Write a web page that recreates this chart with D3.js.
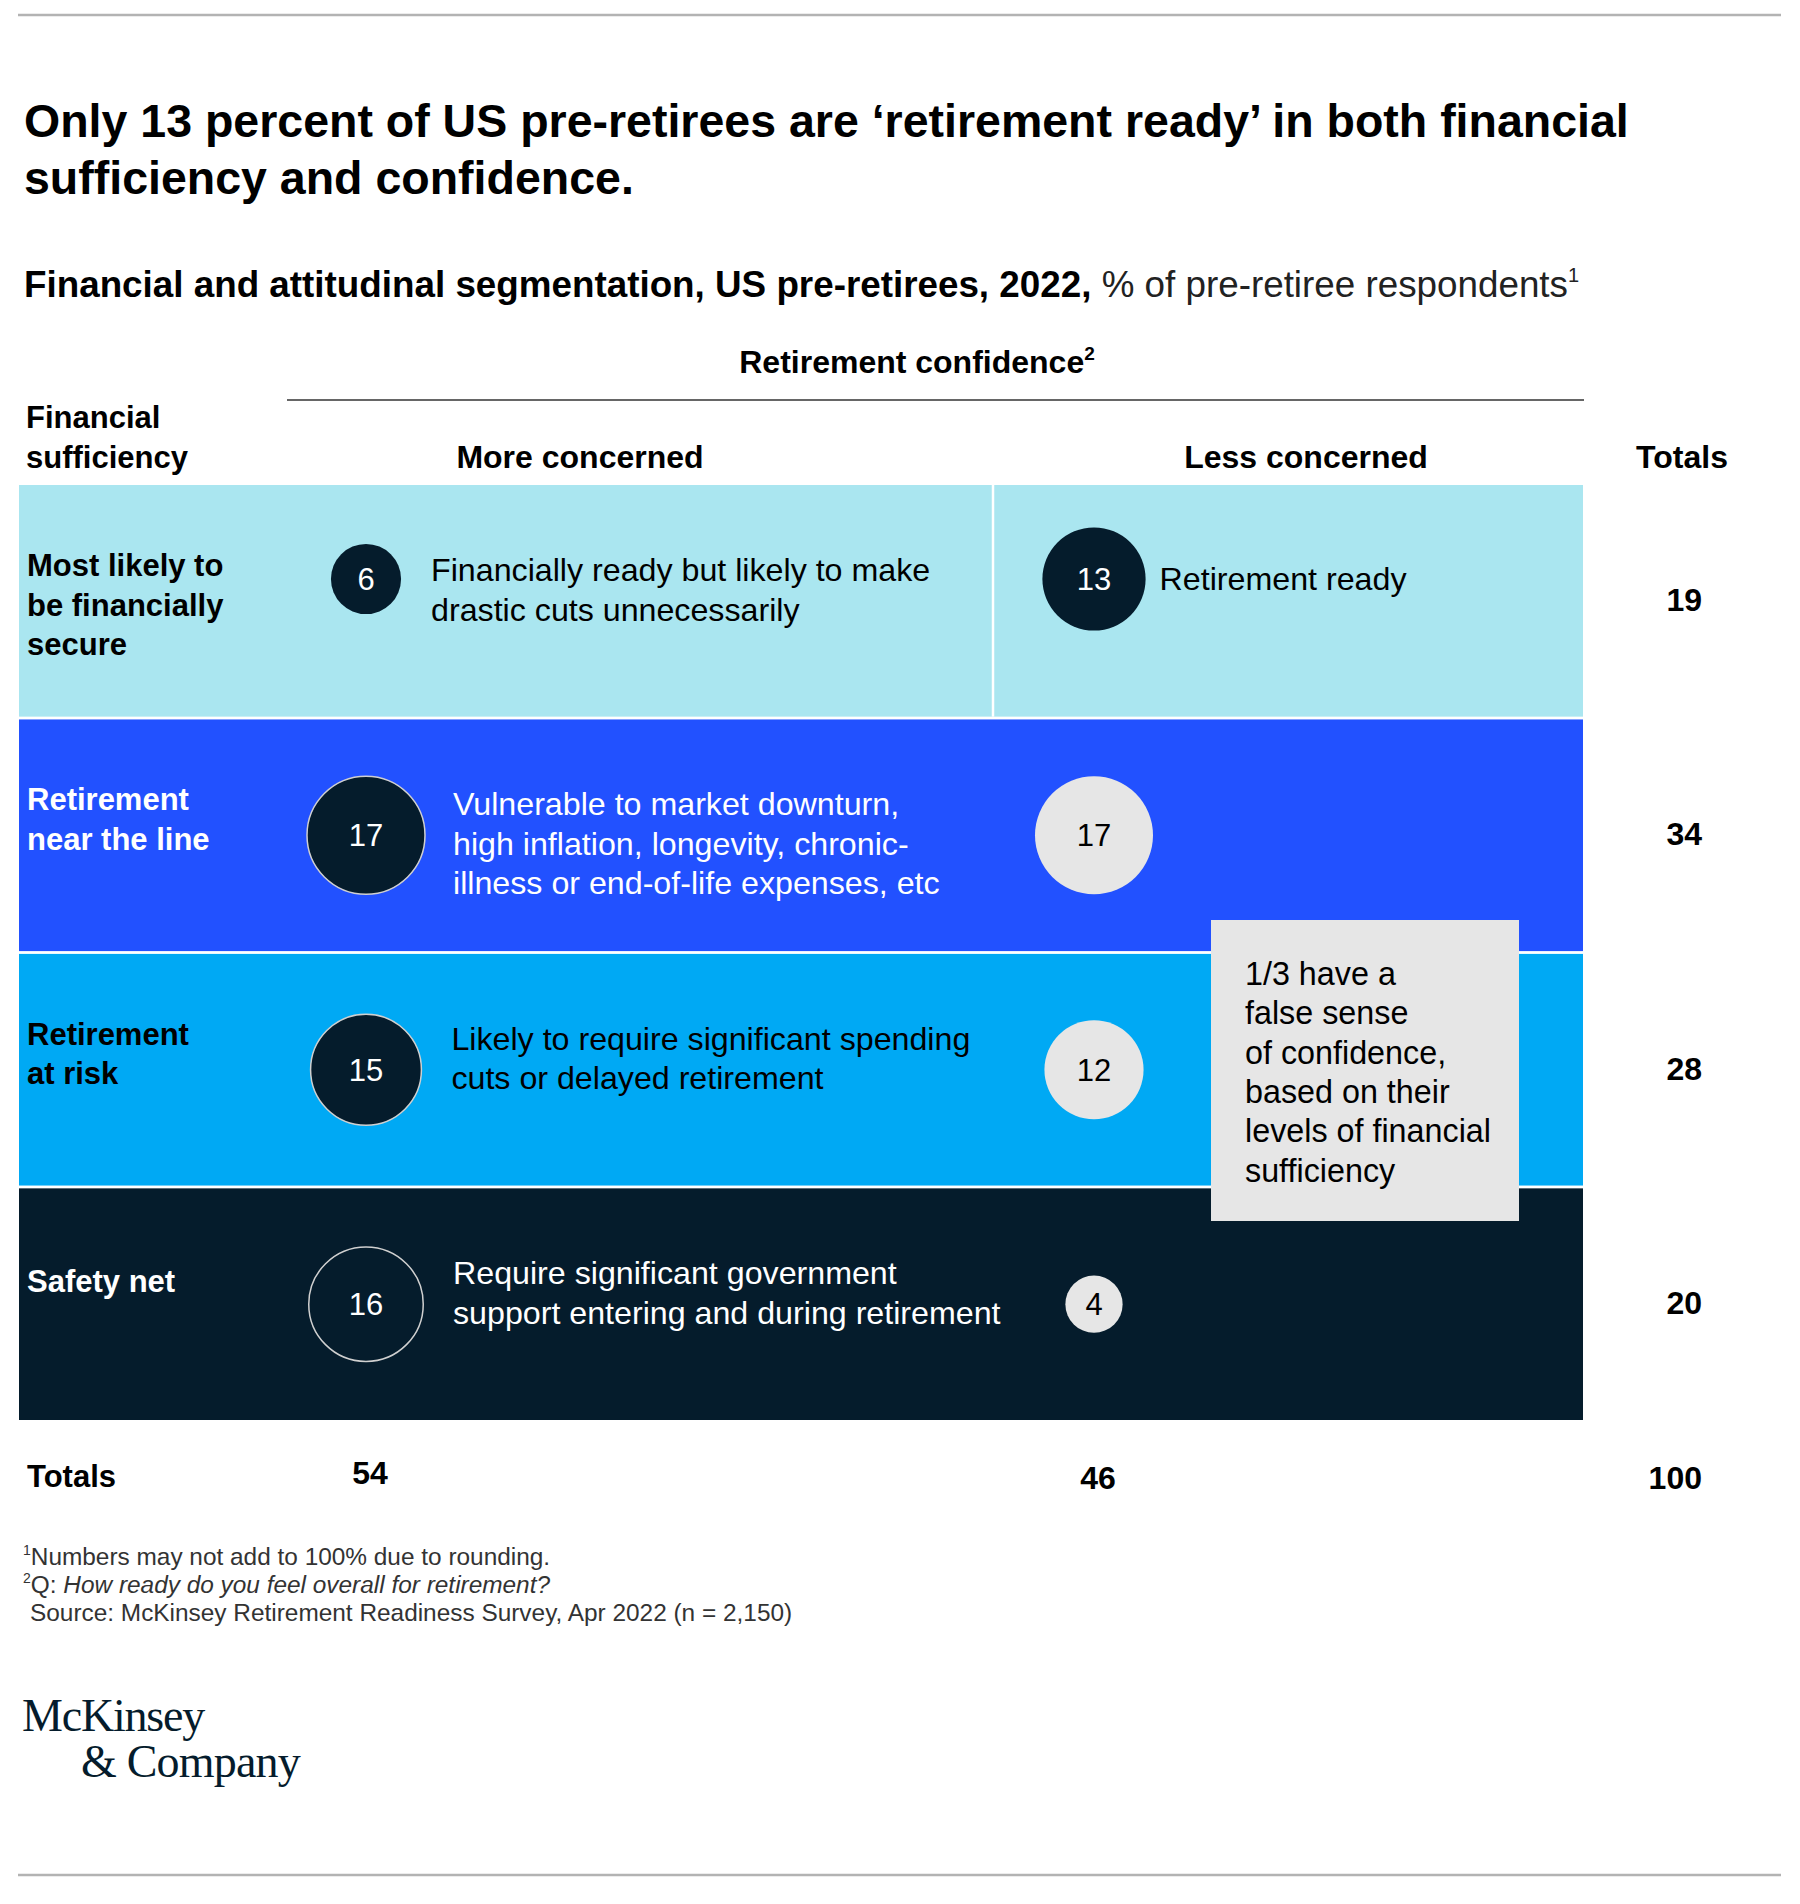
<!DOCTYPE html>
<html>
<head>
<meta charset="utf-8">
<script src="https://cdn.jsdelivr.net/npm/d3@7"></script>
<style>
  body { margin: 0; background: #fff; }
  svg text { font-family: "Liberation Sans", Arial, sans-serif; }
</style>
</head>
<body>
<script>
// segments (rows) of financial sufficiency
var rowLabels = [
    ["Most likely to", "be financially", "secure"],
    ["Retirement", "near the line"],
    ["Retirement", "at risk"],
    ["Safety net"]
];
var confidenceCols = ["More concerned", "Less concerned"];
var moreConcerned = [6, 17, 15, 16];
var lessConcerned = [13, 17, 12, 4];
var moreNotes = [
    ["Financially ready but likely to make", "drastic cuts unnecessarily"],
    ["Vulnerable to market downturn,", "high inflation, longevity, chronic-", "illness or end-of-life expenses, etc"],
    ["Likely to require significant spending", "cuts or delayed retirement"],
    ["Require significant government", "support entering and during retirement"]
];
var lessNotes = [["Retirement ready"], [], [], []];
var rowTotals = [19, 34, 28, 20];
var colTotals = [54, 46];
var grandTotal = 100;
var calloutLines = ["1/3 have a", "false sense", "of confidence,", "based on their", "levels of financial", "sufficiency"];

var rowFill = ["#AAE6F0", "#2251FF", "#00A9F4", "#051C2C"];
var rowInk = ["#000", "#fff", "#000", "#fff"];
var navy = "#051C2C";

var W = 1800, H = 1904;
var svg = d3.select("body").append("svg")
    .attr("width", W)
    .attr("height", H);

var lineH = 39.5;
var table = {left: 19, right: 1583, top: 485, bottom: 1420};

var y = d3.scaleBand()
    .domain(d3.range(rowLabels.length))
    .range([table.top, table.bottom])
    .paddingInner(0.012);
var x = d3.scalePoint()
    .domain(confidenceCols)
    .range([366, 1094]);
var r = d3.scaleSqrt()
    .domain([0, 17])
    .range([0, 59]);
var totalsX = 1702;

// rules top/bottom
svg.append("line").attr("x1", 18).attr("x2", 1781).attr("y1", 15).attr("y2", 15)
    .attr("stroke", "#b3b3b3").attr("stroke-width", 2.5);
svg.append("line").attr("x1", 18).attr("x2", 1781).attr("y1", 1875).attr("y2", 1875)
    .attr("stroke", "#b3b3b3").attr("stroke-width", 2.5);

// title
var title = svg.append("text").attr("x", 24).attr("y", 137)
    .attr("font-size", 46.5).attr("font-weight", "bold").attr("fill", "#000");
title.append("tspan").attr("x", 24).text("Only 13 percent of US pre-retirees are \u2018retirement ready\u2019 in both financial");
title.append("tspan").attr("x", 24).attr("dy", 57).text("sufficiency and confidence.");

// subtitle
var sub = svg.append("text").attr("x", 24).attr("y", 297).attr("font-size", 36.8).attr("fill", "#000");
sub.append("tspan").attr("font-weight", "bold").text("Financial and attitudinal segmentation, US pre-retirees, 2022,");
sub.append("tspan").attr("fill", "#222").text(" % of pre-retiree respondents");
sub.append("tspan").attr("font-size", 20).attr("dy", -15).attr("fill", "#222").text("1");

// column headers
var conf = svg.append("text").attr("x", 917).attr("y", 373).attr("text-anchor", "middle")
    .attr("font-size", 32).attr("font-weight", "bold");
conf.append("tspan").text("Retirement confidence");
conf.append("tspan").attr("font-size", 19).attr("dy", -13).text("2");
svg.append("line").attr("x1", 287).attr("x2", 1584).attr("y1", 400).attr("y2", 400)
    .attr("stroke", "#666").attr("stroke-width", 2);

var fs = svg.append("text").attr("x", 26).attr("y", 428).attr("font-size", 31).attr("font-weight", "bold");
fs.append("tspan").attr("x", 26).text("Financial");
fs.append("tspan").attr("x", 26).attr("dy", lineH).text("sufficiency");

var headerX = {"More concerned": 580, "Less concerned": 1306};
svg.selectAll(".colhead")
    .data(confidenceCols)
    .enter().append("text")
    .attr("class", "colhead")
    .attr("x", function (d) { return headerX[d]; })
    .attr("y", 468)
    .attr("text-anchor", "middle")
    .attr("font-size", 32).attr("font-weight", "bold")
    .text(function (d) { return d; });
svg.append("text").attr("x", 1682).attr("y", 468).attr("text-anchor", "middle")
    .attr("font-size", 32).attr("font-weight", "bold").text("Totals");

// rows
var rows = svg.selectAll(".row")
    .data(rowLabels)
    .enter().append("g")
    .attr("class", "row")
    .attr("transform", function (d, i) { return "translate(0," + y(i) + ")"; });

rows.append("rect")
    .attr("x", table.left)
    .attr("width", table.right - table.left)
    .attr("height", y.bandwidth())
    .attr("fill", function (d, i) { return rowFill[i]; });

// divider only visible in the first row
svg.append("line")
    .attr("x1", 993).attr("x2", 993)
    .attr("y1", y(0)).attr("y2", y(0) + y.bandwidth())
    .attr("stroke", "#fff").attr("stroke-width", 2.5);

// row labels
rows.append("text")
    .attr("font-size", 31).attr("font-weight", "bold")
    .attr("fill", function (d, i) { return rowInk[i]; })
    .each(function (d, i) {
        var t = d3.select(this);
        var top = i === 3 ? 104 : 91;
        d.forEach(function (line, k) {
            t.append("tspan").attr("x", 27).attr("y", top + k * lineH).text(line);
        });
    });

function circleY(i) {
    // first row circles sit higher, level with the first line of text
    return i === 0 ? 94 : y.bandwidth() / 2;
}

function drawCells(values, col, notes, dark) {
    var cx = x(col);
    var cells = rows.append("g").attr("class", "cell");
    cells.append("circle")
        .attr("cx", cx)
        .attr("cy", function (d, i) { return circleY(i); })
        .attr("r", function (d, i) { return r(values[i]); })
        .attr("fill", function (d, i) { return dark[i] ? navy : "#E6E6E6"; })
        .attr("stroke", function (d, i) { return dark[i] && i > 0 ? "#d0d0d0" : "none"; })
        .attr("stroke-width", 1.5);
    cells.append("text")
        .attr("x", cx)
        .attr("y", function (d, i) { return circleY(i) + 11; })
        .attr("text-anchor", "middle")
        .attr("font-size", 31)
        .attr("fill", function (d, i) { return dark[i] ? "#fff" : "#000"; })
        .text(function (d, i) { return values[i]; });
    cells.append("text")
        .attr("font-size", 32.2)
        .attr("fill", function (d, i) { return rowInk[i]; })
        .each(function (d, i) {
            var t = d3.select(this);
            var tx = col === confidenceCols[0] ? Math.min(cx + r(values[i]) + 30, 453) : cx + r(values[i]) + 14;
            var ty = notes[i].length === 1 ? circleY(i) + 11 : 96;
            notes[i].forEach(function (line, k) {
                t.append("tspan").attr("x", tx).attr("y", ty + k * lineH).text(line);
            });
        });
}
drawCells(moreConcerned, confidenceCols[0], moreNotes, [true, true, true, true]);
drawCells(lessConcerned, confidenceCols[1], lessNotes, [true, false, false, false]);

// row totals
rows.append("text")
    .attr("x", totalsX)
    .attr("y", y.bandwidth() / 2 + 10)
    .attr("text-anchor", "end")
    .attr("font-size", 32).attr("font-weight", "bold")
    .text(function (d, i) { return rowTotals[i]; });

// callout box
var box = svg.append("g").attr("transform", "translate(1211,920)");
box.append("rect").attr("width", 308).attr("height", 301).attr("fill", "#E6E6E6");
var bt = box.append("text").attr("font-size", 32.3).attr("fill", "#000");
calloutLines.forEach(function (line, k) {
    bt.append("tspan").attr("x", 34).attr("y", 65 + k * 39.3).text(line);
});

// totals row
svg.append("text").attr("x", 27).attr("y", 1487)
    .attr("font-size", 31).attr("font-weight", "bold").text("Totals");
svg.selectAll(".coltotal")
    .data(colTotals)
    .enter().append("text")
    .attr("class", "coltotal")
    .attr("x", function (d, i) { return x(confidenceCols[i]) + 4; })
    .attr("y", function (d, i) { return i === 0 ? 1484 : 1489; })
    .attr("text-anchor", "middle")
    .attr("font-size", 32).attr("font-weight", "bold")
    .text(function (d) { return d; });
svg.append("text").attr("x", totalsX).attr("y", 1489).attr("text-anchor", "end")
    .attr("font-size", 32).attr("font-weight", "bold").text(grandTotal);

// footnotes
var foot = svg.append("g").attr("fill", "#333").attr("font-size", 24.4);
var f1 = foot.append("text").attr("x", 23).attr("y", 1565);
f1.append("tspan").attr("font-size", 14).attr("dy", -10).text("1");
f1.append("tspan").attr("dy", 10).text("Numbers may not add to 100% due to rounding.");
var f2 = foot.append("text").attr("x", 23).attr("y", 1593);
f2.append("tspan").attr("font-size", 14).attr("dy", -10).text("2");
f2.append("tspan").attr("dy", 10).text("Q: ");
f2.append("tspan").attr("font-style", "italic").text("How ready do you feel overall for retirement?");
foot.append("text").attr("x", 30).attr("y", 1621)
    .text("Source: McKinsey Retirement Readiness Survey, Apr 2022 (n = 2,150)");

// logo
var logo = svg.append("g").attr("fill", navy);
logo.append("text").attr("x", 22).attr("y", 1731)
    .style("font-family", "'Liberation Serif', serif")
    .attr("font-size", 46).attr("letter-spacing", -1.2).text("McKinsey");
logo.append("text").attr("x", 81).attr("y", 1777)
    .style("font-family", "'Liberation Serif', serif")
    .attr("font-size", 46).attr("letter-spacing", -0.8).text("& Company");
</script>
</body>
</html>
